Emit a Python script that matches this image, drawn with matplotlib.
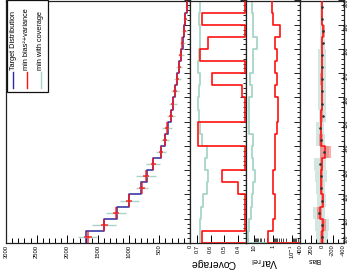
import numpy as np
import matplotlib
matplotlib.use('Agg')
import matplotlib.pyplot as plt
from matplotlib.patches import Rectangle
from matplotlib.lines import Line2D
from matplotlib.ticker import MultipleLocator, LogLocator, NullFormatter, FixedLocator, FixedFormatter

plt.rcParams['font.family'] = ['Liberation Sans', 'DejaVu Sans']

# ---------------- data ----------------
bin_edges = [100, 105, 110, 115, 120, 125, 130, 135, 140, 145, 150,
             155, 160, 165, 170, 175, 180, 185, 190, 195, 200]
target = [1700, 1400, 1190, 1000, 800, 705, 610, 480, 410, 365,
          315, 280, 248, 205, 175, 150, 122, 95, 75, 48]
minbv = [1668, 1395, 1205, 989, 782, 717, 598, 472, 407, 370,
         310, 283, 245, 207, 174, 150, 125, 93, 77, 44]
minbv_err = [65, 55, 50, 50, 45, 45, 40, 35, 35, 35,
             30, 30, 30, 28, 25, 25, 22, 20, 20, 18]
mincov = [1668, 1395, 1205, 989, 782, 717, 598, 472, 407, 370,
          310, 283, 245, 207, 174, 150, 125, 93, 77, 44]
mincov_err = [150, 195, 165, 150, 100, 165, 115, 80, 65, 80,
              70, 65, 60, 55, 50, 45, 40, 40, 35, 30]

cov_minbv = [0.666, 0.0, 0.0, 0.0, 0.40, 0.52, 0.0, 0.0, 0.69, 0.69,
             0.0, 0.0, 0.374, 0.593, 0.0, 0.678, 0.617, 0.0, 0.666, 0.0]
cov_mincov = [0.678, 0.678, 0.67, 0.654, 0.63, 0.617, 0.64, 0.63, 0.666, 0.68,
              0.685, 0.69, 0.685, 0.68, 0.69, 0.685, 0.68, 0.68, 0.685, 0.678]

var_minbv = [1.77, 0.96, 0.79, 0.79, 0.96, 0.96, 0.79, 0.79, 0.79, 0.64,
             0.53, 0.53, 0.79, 0.64, 0.79, 0.64, 0.79, 0.43, 0.96, 1.17]
var_mincov = [20.0, 18.3, 14.4, 12.3, 10.8, 8.9, 10.8, 13.2, 10.8, 18.3,
              18.3, 18.3, 13.2, 16.2, 10.8, 10.8, 7.2, 10.8, 10.8, 12.3]

bias_minbv = [-10, -28, 40, -14, 5, 10, 0, -65, 14, 14,
              5, 0, -5, 0, -5, 0, -5, -30, -5, 0]
bias_minbv_err = [37, 43, 50, 25, 30, 30, 25, 100, 30, 25,
                  25, 20, 25, 25, 25, 20, 20, 28, 15, 15]
bias_mincov = [-9, 0, 49, 3, 20, 15, 32, -50, 20, 28,
               -14, -3, -3, -8, -8, -8, -14, -14, 0, 0]
bias_mincov_err = [110, 130, 110, 87, 81, 116, 116, 81, 81, 72,
                   70, 73, 73, 78, 78, 78, 46, 46, 30, 30]

legend_labels = ['Target Distribution', 'min bias\u00b2+variance', 'min with coverage']
count_ticks = [0, 500, 1000, 1500, 2000, 2500, 3000]
cov_ticks = [0.4, 0.5, 0.6, 0.7]
var_ticks = [0.1, 1, 10]
var_ticklabels = ['10$^{-1}$', '1', '10']
bias_ticks = [-400, -200, 0, 200, 400]
bin_ticks = [100, 110, 120, 130, 140, 150, 160, 170, 180, 190, 200]

# ---------------- styling ----------------
C_BLUE = '#2a2a9c'
C_RED = '#ff1010'
C_CYAN = '#a8d5c9'
C_BOX = '#cfe4dd'

W, H = 349, 271
fig = plt.figure(figsize=(W / 100, H / 100), dpi=100)


def px(x0, x1, y0, y1):
    return [x0 / W, 1 - y1 / H, (x1 - x0) / W, (y1 - y0) / H]


ax_main = fig.add_axes(px(6, 190, 0.5, 243))
ax_cov = fig.add_axes(px(190, 245.7, 0.5, 243))
ax_var = fig.add_axes(px(245.7, 300, 0.5, 243))
ax_bias = fig.add_axes(px(300, 343.5, 0.5, 243))

edges = np.asarray(bin_edges, dtype=float)
centers = 0.5 * (edges[:-1] + edges[1:])
half = 0.5 * np.diff(edges)


def step_xy(vals, base):
    v = np.asarray(vals, dtype=float)
    ys = np.concatenate([[edges[0]], np.repeat(edges, 2)[1:-1], [edges[-1]]])
    xs = np.concatenate([[base], np.repeat(v, 2), [base]])
    return xs, ys


# main panel
xs, ys = step_xy(target, 0)
ax_main.plot(xs[1:-1], ys[1:-1], color=C_BLUE, lw=1.1, zorder=2)
ax_main.errorbar(mincov, centers, xerr=mincov_err, fmt='none', ecolor=C_CYAN,
                 elinewidth=1.0, zorder=3)
ax_main.errorbar(minbv, centers, xerr=minbv_err, yerr=half, fmt='none', ecolor=C_RED,
                 elinewidth=1.2, alpha=0.8, zorder=4)
ax_main.set_xlim(3000, 0)

# coverage panel
cov_lo, cov_hi = 0.345, 0.75
clip_lo = cov_lo + 0.004
xs, ys = step_xy(np.clip(cov_mincov, clip_lo, None), clip_lo)
ax_cov.plot(xs, ys, color=C_CYAN, lw=1.3, zorder=2)
xs, ys = step_xy(np.clip(cov_minbv, clip_lo, None), clip_lo)
ax_cov.plot(xs, ys, color=C_RED, lw=1.2, zorder=3)
ax_cov.set_xlim(cov_hi, cov_lo)

# var panel
var_lo, var_hi = 0.038, 27
ax_var.set_xscale('log')
xs, ys = step_xy(var_mincov, var_lo)
ax_var.plot(xs, ys, color=C_CYAN, lw=1.3, zorder=2)
xs, ys = step_xy(var_minbv, var_lo)
ax_var.plot(xs, ys, color=C_RED, lw=1.2, zorder=3)
ax_var.set_xlim(var_hi, var_lo)

# bias panel
for c, b, e in zip(centers, bias_mincov, bias_mincov_err):
    ax_bias.add_patch(Rectangle((b - e, c - 2.5), 2 * e, 5.0, facecolor=C_BOX,
                                edgecolor='none', alpha=0.9, zorder=1))
for c, b, e in zip(centers, bias_minbv, bias_minbv_err):
    ax_bias.add_patch(Rectangle((b - e, c - 2.5), 2 * e, 5.0, facecolor=C_RED,
                                edgecolor='none', alpha=0.35, zorder=2))
xs, ys = step_xy(bias_minbv, 0)
ax_bias.plot(xs[1:-1], ys[1:-1], color=C_RED, lw=1.1, zorder=3)
ax_bias.plot(bias_mincov, centers, ls='none', marker='o', ms=0.9, color='#333333', zorder=4)
ax_bias.set_xlim(400, -400)

# ---------------- axes cosmetics ----------------
for ax in (ax_main, ax_cov, ax_var, ax_bias):
    ax.set_ylim(100, 200)
    for s in ax.spines.values():
        s.set_linewidth(0.9)
        s.set_color('#222222')
    ax.yaxis.set_major_locator(FixedLocator(bin_ticks))
    ax.yaxis.set_minor_locator(MultipleLocator(2))
    ax.tick_params(axis='y', which='both', direction='in', left=False, right=True,
                   labelleft=False, labelright=False, width=0.6)
    ax.tick_params(axis='y', which='major', length=4)
    ax.tick_params(axis='y', which='minor', length=2)
    ax.tick_params(axis='x', which='both', direction='in', top=False, bottom=True,
                   labelrotation=90, labelsize=4.2, pad=1.2, width=0.7)

ax_main.xaxis.set_major_locator(FixedLocator(count_ticks))
ax_main.xaxis.set_major_formatter(FixedFormatter([str(t) for t in count_ticks]))
ax_main.xaxis.set_minor_locator(MultipleLocator(100))
ax_main.tick_params(axis='x', which='major', length=6)
ax_main.tick_params(axis='x', which='minor', length=3.5)

ax_cov.xaxis.set_major_locator(FixedLocator(cov_ticks))
ax_cov.xaxis.set_major_formatter(FixedFormatter([f'{t:.1f}' for t in cov_ticks]))
ax_cov.xaxis.set_minor_locator(MultipleLocator(0.02))
ax_cov.tick_params(axis='x', which='major', length=6)
ax_cov.tick_params(axis='x', which='minor', length=0)

ax_var.xaxis.set_major_locator(FixedLocator(var_ticks))
ax_var.xaxis.set_major_formatter(FixedFormatter(var_ticklabels))
ax_var.xaxis.set_minor_locator(LogLocator(base=10, subs=np.arange(2, 10)))
ax_var.xaxis.set_minor_formatter(NullFormatter())
ax_var.tick_params(axis='x', which='major', length=6)
ax_var.tick_params(axis='x', which='minor', length=3.5, width=0.5)

ax_bias.xaxis.set_major_locator(FixedLocator(bias_ticks))
ax_bias.xaxis.set_major_formatter(FixedFormatter([str(t) for t in bias_ticks]))
ax_bias.xaxis.set_minor_locator(MultipleLocator(100))
ax_bias.tick_params(axis='x', which='major', length=6)
ax_bias.tick_params(axis='x', which='minor', length=3)
ax_bias.tick_params(axis='y', which='both', labelright=True, labelrotation=90,
                    labelsize=3.6, pad=0.4)
# keep the lowest bin label clear of the bias axis labels
ax_bias.yaxis.get_major_ticks()[0].label2.set_verticalalignment('bottom')

# axis titles (upside down, as in the rotated original)
fig.text(212.5 / W, 1 - 262.5 / H, 'Coverage', rotation=180, ha='center', va='center',
         fontsize=7.5)
fig.text(264 / W, 1 - 262 / H, 'Var$_{\\rm rel}$', rotation=180, ha='center', va='center',
         fontsize=7.5)
fig.text(314 / W, 1 - 260 / H, 'Bias', rotation=180, ha='center', va='center',
         fontsize=4.8)

# legend box (rotated)
fig.patches.append(Rectangle((7 / W, 1 - 92 / H), 41 / W, 92 / H, transform=fig.transFigure,
                             facecolor='white', edgecolor='#111111', lw=0.9, zorder=5))
leg_colors = [C_BLUE, C_RED, C_CYAN]
leg_x = [13.3, 26.9, 40.7]
for lx, col, lab in zip(leg_x, leg_colors, legend_labels):
    fig.lines.append(Line2D([lx / W, lx / W], [1 - 88 / H, 1 - 72 / H], transform=fig.transFigure,
                            color=col, lw=1.0, zorder=6))
    fig.text(lx / W, 1 - 70 / H, lab, rotation=90, rotation_mode='anchor', ha='left',
             va='center', fontsize=5.3, zorder=7)

fig.savefig('out.png', dpi=100)
